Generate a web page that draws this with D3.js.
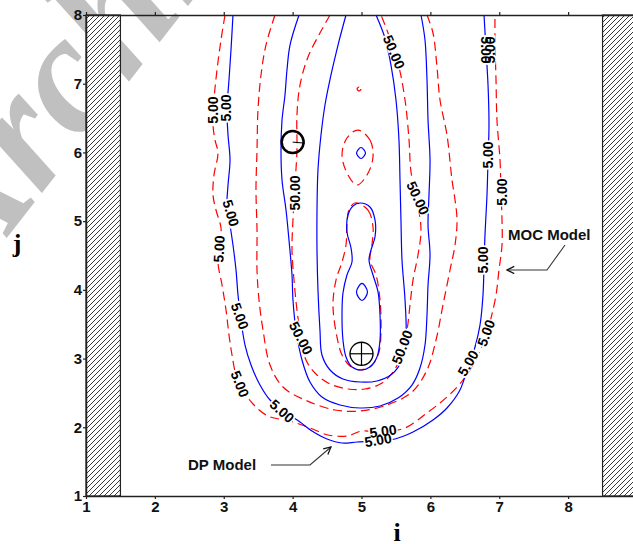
<!DOCTYPE html>
<html>
<head>
<meta charset="utf-8">
<script src="https://cdn.jsdelivr.net/npm/d3@7"></script>
<style>
  html, body { margin: 0; padding: 0; background: #fff; }
  svg { display: block; }
</style>
</head>
<body>
<svg id="chart" width="633" height="544"></svg>
<script>
// axis ticks
const iTicks = [1, 2, 3, 4, 5, 6, 7, 8, 9];
const jTicks = [1, 2, 3, 4, 5, 6, 7, 8];

// no-flow walls, i ranges
const walls = [[1, 1.5], [8.5, 9]];

// DP model contours (blue, solid), points are [i, j]
const dp5 = [[3.134, 8.0], [3.105, 7.491], [3.076, 7.054], [3.047, 6.617], [3.062, 6.254], [3.091, 5.89], [3.062, 5.526], [3.047, 5.235], [3.091, 4.944], [3.134, 4.653], [3.178, 4.289], [3.207, 3.925], [3.25, 3.561], [3.309, 3.197], [3.396, 2.906], [3.526, 2.615], [3.672, 2.397], [3.889, 2.222], [4.107, 2.077], [4.281, 1.946], [4.499, 1.83], [4.717, 1.771], [4.935, 1.786], [5.196, 1.8], [5.486, 1.83], [5.748, 1.931], [6.038, 2.106], [6.241, 2.281], [6.43, 2.543], [6.546, 2.877], [6.648, 3.168], [6.721, 3.489], [6.764, 3.925], [6.779, 4.362], [6.793, 4.798], [6.822, 5.38], [6.837, 5.89], [6.851, 6.399], [6.837, 6.981], [6.808, 7.491], [6.779, 8.0]];
const dp50 = [[4.093, 8.0], [3.962, 7.563], [3.918, 7.2], [3.889, 6.836], [3.846, 6.472], [3.831, 6.035], [3.846, 5.599], [3.904, 5.162], [3.947, 4.726], [3.991, 4.216], [4.005, 3.852], [4.049, 3.416], [4.136, 2.979], [4.252, 2.659], [4.426, 2.441], [4.688, 2.324], [4.978, 2.281], [5.269, 2.31], [5.53, 2.426], [5.733, 2.615], [5.849, 2.863], [5.922, 3.197], [5.951, 3.634], [5.966, 4.071], [5.995, 4.507], [5.966, 4.944], [5.98, 5.38], [5.995, 5.89], [5.966, 6.472], [5.951, 7.054], [5.922, 7.636], [5.864, 8.0]];
const dpInner = [[4.775, 8.0], [4.659, 7.563], [4.557, 7.127], [4.47, 6.69], [4.412, 6.254], [4.368, 5.744], [4.354, 5.162], [4.354, 4.58], [4.368, 3.998], [4.397, 3.416], [4.426, 3.052], [4.543, 2.834], [4.731, 2.703], [4.978, 2.659], [5.225, 2.674], [5.443, 2.775], [5.588, 2.979], [5.646, 3.343], [5.632, 3.852], [5.588, 4.435], [5.573, 5.017], [5.559, 5.599], [5.544, 6.181], [5.501, 6.763], [5.428, 7.272], [5.341, 7.665], [5.211, 8.0]];
const dpBlob = [[4.978, 5.264], [5.123, 5.206], [5.196, 5.017], [5.196, 4.769], [5.138, 4.58], [5.109, 4.435], [5.167, 4.216], [5.24, 3.969], [5.269, 3.634], [5.269, 3.27], [5.225, 3.023], [5.123, 2.877], [4.993, 2.834], [4.862, 2.877], [4.775, 3.023], [4.731, 3.27], [4.717, 3.634], [4.731, 3.954], [4.789, 4.216], [4.862, 4.405], [4.848, 4.609], [4.789, 4.842], [4.804, 5.089], [4.877, 5.22]];
const dpSpot1 = [[5.007, 4.093], [5.087, 3.969], [5.007, 3.845], [4.927, 3.969]];
const dpSpot2 = [[4.993, 6.072], [5.058, 5.992], [4.993, 5.912], [4.928, 5.992]];

// MOC model contours (red, dashed)
const moc5 = [[3.018, 8.0], [2.96, 7.636], [2.902, 7.2], [2.858, 6.763], [2.844, 6.399], [2.873, 6.181], [2.916, 5.992], [2.858, 5.672], [2.844, 5.38], [2.887, 5.162], [2.96, 4.9], [2.946, 4.653], [2.916, 4.405], [2.975, 4.071], [3.033, 3.707], [3.076, 3.343], [3.12, 3.052], [3.178, 2.761], [3.28, 2.543], [3.425, 2.339], [3.642, 2.164], [3.962, 2.091], [4.252, 1.99], [4.514, 1.888], [4.789, 1.873], [5.007, 1.946], [5.298, 1.931], [5.632, 1.99], [5.951, 2.208], [6.241, 2.441], [6.474, 2.688], [6.677, 3.023], [6.793, 3.299], [6.88, 3.59], [6.953, 3.925], [6.996, 4.289], [7.04, 4.653], [7.04, 5.017], [7.025, 5.453], [7.011, 5.89], [6.967, 6.472], [6.953, 7.054], [6.938, 7.636], [6.938, 8.0]];
const mocMid = [[3.744, 8.0], [3.613, 7.563], [3.541, 7.127], [3.497, 6.617], [3.483, 6.035], [3.468, 5.453], [3.483, 4.871], [3.483, 4.289], [3.512, 3.852], [3.57, 3.416], [3.672, 2.906], [3.86, 2.586], [4.18, 2.397], [4.615, 2.252], [4.978, 2.237], [5.37, 2.324], [5.733, 2.513], [5.951, 2.834], [6.082, 3.27], [6.183, 3.78], [6.285, 4.289], [6.358, 4.653], [6.387, 5.017], [6.358, 5.308], [6.314, 5.599], [6.241, 6.254], [6.14, 6.763], [6.096, 7.243], [6.038, 7.738], [5.951, 8.0]];
const moc50 = [[4.543, 8.0], [4.397, 7.738], [4.223, 7.389], [4.107, 6.981], [4.063, 6.545], [4.063, 6.035], [4.034, 5.526], [4.005, 5.017], [3.991, 4.58], [4.02, 4.143], [4.063, 3.707], [4.122, 3.299], [4.194, 2.979], [4.339, 2.775], [4.543, 2.63], [4.804, 2.557], [5.051, 2.557], [5.298, 2.644], [5.486, 2.848], [5.588, 3.096], [5.661, 3.416], [5.704, 3.78], [5.748, 4.143], [5.82, 4.507], [5.864, 4.871], [5.806, 5.308], [5.719, 5.715], [5.69, 6.181], [5.632, 6.763], [5.53, 7.301], [5.385, 7.738], [5.283, 8.0]];
const mocBlob = [[4.906, 5.264], [5.094, 5.162], [5.167, 4.915], [5.152, 4.653], [5.123, 4.435], [5.211, 4.216], [5.269, 3.852], [5.283, 3.416], [5.254, 3.096], [5.152, 2.906], [4.978, 2.834], [4.833, 2.892], [4.717, 3.052], [4.644, 3.314], [4.586, 3.78], [4.63, 4.143], [4.717, 4.405], [4.775, 4.653], [4.789, 4.944], [4.818, 5.162]];
const mocDrop = [[4.949, 6.326], [5.123, 6.181], [5.167, 5.933], [5.08, 5.672], [4.935, 5.526], [4.804, 5.672], [4.717, 5.963], [4.789, 6.21]];
const mocDot = [[4.964, 6.952], [4.993, 6.923], [4.964, 6.894], [4.935, 6.923]];

// contour labels: text, i, j, angle (deg)
const labelText = ['5.00', '5.00', '5.00', '5.00', '5.00', '5.00', '5.00', '5.00', '5.00', '5.00', '5.00', '5.00', '5.00', '5.00', '5.00', '5.00',
                   '50.00', '50.00', '50.00', '50.00', '50.00'];
const labelI = [2.844, 3.033, 3.105, 2.931, 3.236, 3.236, 3.846, 5.312, 5.24, 6.546, 6.808, 6.764, 7.04, 6.837, 6.808, 6.866,
                5.472, 4.034, 5.82, 4.122, 5.588];
const labelJ = [6.617, 6.647, 5.118, 4.595, 3.62, 2.63, 2.237, 1.946, 1.815, 2.935, 3.372, 4.435, 5.424, 5.963, 7.491, 7.491,
                7.462, 5.41, 5.337, 3.299, 3.168];
const labelAngle = [-90, -90, 73, -87, 70, 68, 41, -8, -10, -60, -70, -90, -90, -90, 90, -90,
                    67, -90, 65, 63, -69];

// wells
const pumpWell = [4.0, 6.15];
const sourceWell = [5.0, 3.07];

// annotations
const notes = [
  {text: 'DP Model', at: [2.481, 1.378], path: [[3.686, 1.451], [4.252, 1.451], [4.557, 1.713]]},
  {text: 'MOC Model', at: [7.127, 4.726], path: [[7.955, 4.653], [7.693, 4.289], [7.113, 4.289]]}
];

const svg = d3.select('#chart');
const x = d3.scaleLinear().domain([1, 9]).range([86, 637]);
const y = d3.scaleLinear().domain([1, 8]).range([496, 15]);

// watermark
svg.append('text')
    .attr('transform', 'translate(-30,285) rotate(-52)')
    .attr('font-family', 'Liberation Serif')
    .attr('font-style', 'italic')
    .attr('font-weight', 'bold')
    .attr('font-size', 170)
    .attr('fill', '#c0c0c0')
    .text('Archive of SID');

const defs = svg.append('defs');
const pat = defs.append('pattern')
    .attr('id', 'hatch')
    .attr('patternUnits', 'userSpaceOnUse')
    .attr('width', 5).attr('height', 5);
pat.append('rect').attr('width', 5).attr('height', 5).attr('fill', '#fff');
pat.append('path')
    .attr('d', 'M-1,1 l2,-2 M0,5 l5,-5 M4,6 l2,-2')
    .attr('stroke', '#222').attr('stroke-width', 0.9);

defs.append('marker')
    .attr('id', 'arrow')
    .attr('viewBox', '0 0 10 10')
    .attr('refX', 9).attr('refY', 5)
    .attr('markerWidth', 9).attr('markerHeight', 9)
    .attr('markerUnits', 'userSpaceOnUse')
    .attr('orient', 'auto')
  .append('path')
    .attr('d', 'M1,1 L9,5 L1,9')
    .attr('fill', 'none').attr('stroke', '#111').attr('stroke-width', 1.4);

// walls
svg.append('g').selectAll('rect')
    .data(walls)
  .enter().append('rect')
    .attr('x', d => x(d[0]))
    .attr('y', y(8))
    .attr('width', d => x(d[1]) - x(d[0]))
    .attr('height', y(1) - y(8))
    .attr('fill', 'url(#hatch)')
    .attr('stroke', '#222').attr('stroke-width', 1.2);

const line = d3.line().x(d => x(d[0])).y(d => y(d[1])).curve(d3.curveCatmullRom.alpha(0.5));
const loop = d3.line().x(d => x(d[0])).y(d => y(d[1])).curve(d3.curveCatmullRomClosed.alpha(0.5));

const dpOpen = [dp5, dp50, dpInner];
const dpClosed = [dpBlob, dpSpot1, dpSpot2];
const mocOpen = [moc5, mocMid, moc50];
const mocClosed = [mocBlob, mocDrop, mocDot];

const cg = svg.append('g').attr('fill', 'none');
cg.selectAll('.moc-open').data(mocOpen).enter().append('path')
    .attr('d', line).attr('stroke', '#ff0000').attr('stroke-width', 1.2).attr('stroke-dasharray', '9,5');
cg.selectAll('.moc-closed').data(mocClosed).enter().append('path')
    .attr('d', loop).attr('stroke', '#ff0000').attr('stroke-width', 1.2).attr('stroke-dasharray', '9,5');
cg.selectAll('.dp-open').data(dpOpen).enter().append('path')
    .attr('d', line).attr('stroke', '#0000ff').attr('stroke-width', 1.2);
cg.selectAll('.dp-closed').data(dpClosed).enter().append('path')
    .attr('d', loop).attr('stroke', '#0000ff').attr('stroke-width', 1.2);

// contour labels, white box under text cuts the line
const labels = labelText.map((t, k) => ({t, i: labelI[k], j: labelJ[k], a: labelAngle[k]}));
const boxG = svg.append('g');
const textG = svg.append('g');
const txt = textG.selectAll('text').data(labels).enter().append('text')
    .attr('transform', d => `translate(${x(d.i)},${y(d.j)}) rotate(${d.a})`)
    .attr('text-anchor', 'middle')
    .attr('dy', '0.36em')
    .attr('font-family', 'Liberation Sans, Arial, sans-serif')
    .attr('font-weight', 'bold')
    .attr('font-size', 14)
    .attr('fill', '#000')
    .text(d => d.t);
txt.each(function(d) { d.w = this.getComputedTextLength(); });
boxG.selectAll('rect').data(labels).enter().append('rect')
    .attr('transform', d => `translate(${x(d.i)},${y(d.j)}) rotate(${d.a})`)
    .attr('x', d => -d.w / 2 - 1).attr('y', -5.5)
    .attr('width', d => d.w + 2).attr('height', 11)
    .attr('fill', '#fff');

// wells
const wg = svg.append('g').attr('fill', 'none').attr('stroke', '#000');
wg.append('circle')
    .attr('cx', x(pumpWell[0])).attr('cy', y(pumpWell[1])).attr('r', 11)
    .attr('stroke-width', 2.5);
wg.append('line')
    .attr('x1', x(pumpWell[0])).attr('y1', y(pumpWell[1]))
    .attr('x2', x(pumpWell[0]) + 12).attr('y2', y(pumpWell[1]) + 1)
    .attr('stroke-width', 1);
wg.append('circle')
    .attr('cx', x(sourceWell[0])).attr('cy', y(sourceWell[1])).attr('r', 11.5)
    .attr('stroke-width', 1.4);
wg.append('line')
    .attr('x1', x(sourceWell[0]) - 11.5).attr('y1', y(sourceWell[1]))
    .attr('x2', x(sourceWell[0]) + 11.5).attr('y2', y(sourceWell[1]))
    .attr('stroke-width', 1.2);
wg.append('line')
    .attr('x1', x(sourceWell[0])).attr('y1', y(sourceWell[1]) - 11.5)
    .attr('x2', x(sourceWell[0])).attr('y2', y(sourceWell[1]) + 11.5)
    .attr('stroke-width', 1.2);

// axes
function styleAxis(g) {
  g.selectAll('.domain').attr('stroke', '#222').attr('stroke-width', 1.5);
  g.selectAll('.tick line').attr('stroke', '#222').attr('stroke-width', 1.2);
  g.selectAll('.tick text')
      .attr('font-family', 'Liberation Sans, Arial, sans-serif')
      .attr('font-weight', 'bold')
      .attr('font-size', 15)
      .attr('fill', '#111');
}
svg.append('g').attr('transform', `translate(0,${y(1)})`)
    .call(d3.axisBottom(x).tickValues(iTicks).tickFormat(d3.format('d')).tickSize(3).tickPadding(2).tickSizeOuter(0))
    .call(styleAxis);
svg.append('g').attr('transform', `translate(0,${y(8)})`)
    .call(d3.axisTop(x).tickValues(iTicks).tickFormat('').tickSize(3).tickSizeOuter(0))
    .call(styleAxis);
svg.append('g').attr('transform', `translate(${x(1)},0)`)
    .call(d3.axisLeft(y).tickValues(jTicks).tickFormat(d3.format('d')).tickSize(3).tickPadding(1).tickSizeOuter(0))
    .call(styleAxis);
svg.append('g').attr('transform', `translate(${x(9)},0)`)
    .call(d3.axisRight(y).tickValues(jTicks).tickFormat('').tickSize(3).tickSizeOuter(0))
    .call(styleAxis);

// axis titles
svg.append('text')
    .attr('x', 397).attr('y', 541)
    .attr('text-anchor', 'middle')
    .attr('font-family', 'Liberation Serif, Times New Roman, serif')
    .attr('font-weight', 'bold').attr('font-size', 26)
    .text('i');
svg.append('text')
    .attr('x', 17).attr('y', 252)
    .attr('text-anchor', 'middle')
    .attr('font-family', 'Liberation Serif, Times New Roman, serif')
    .attr('font-weight', 'bold').attr('font-size', 26)
    .text('j');

// model annotations
const ng = svg.append('g');
ng.selectAll('text').data(notes).enter().append('text')
    .attr('x', d => x(d.at[0])).attr('y', d => y(d.at[1]))
    .attr('font-family', 'Liberation Sans, Arial, sans-serif')
    .attr('font-weight', 'bold').attr('font-size', 15)
    .attr('fill', '#111')
    .text(d => d.text);
ng.selectAll('path').data(notes).enter().append('path')
    .attr('d', d => d3.line().x(p => x(p[0])).y(p => y(p[1]))(d.path))
    .attr('fill', 'none').attr('stroke', '#333').attr('stroke-width', 1.1)
    .attr('marker-end', 'url(#arrow)');
</script>
</body>
</html>
